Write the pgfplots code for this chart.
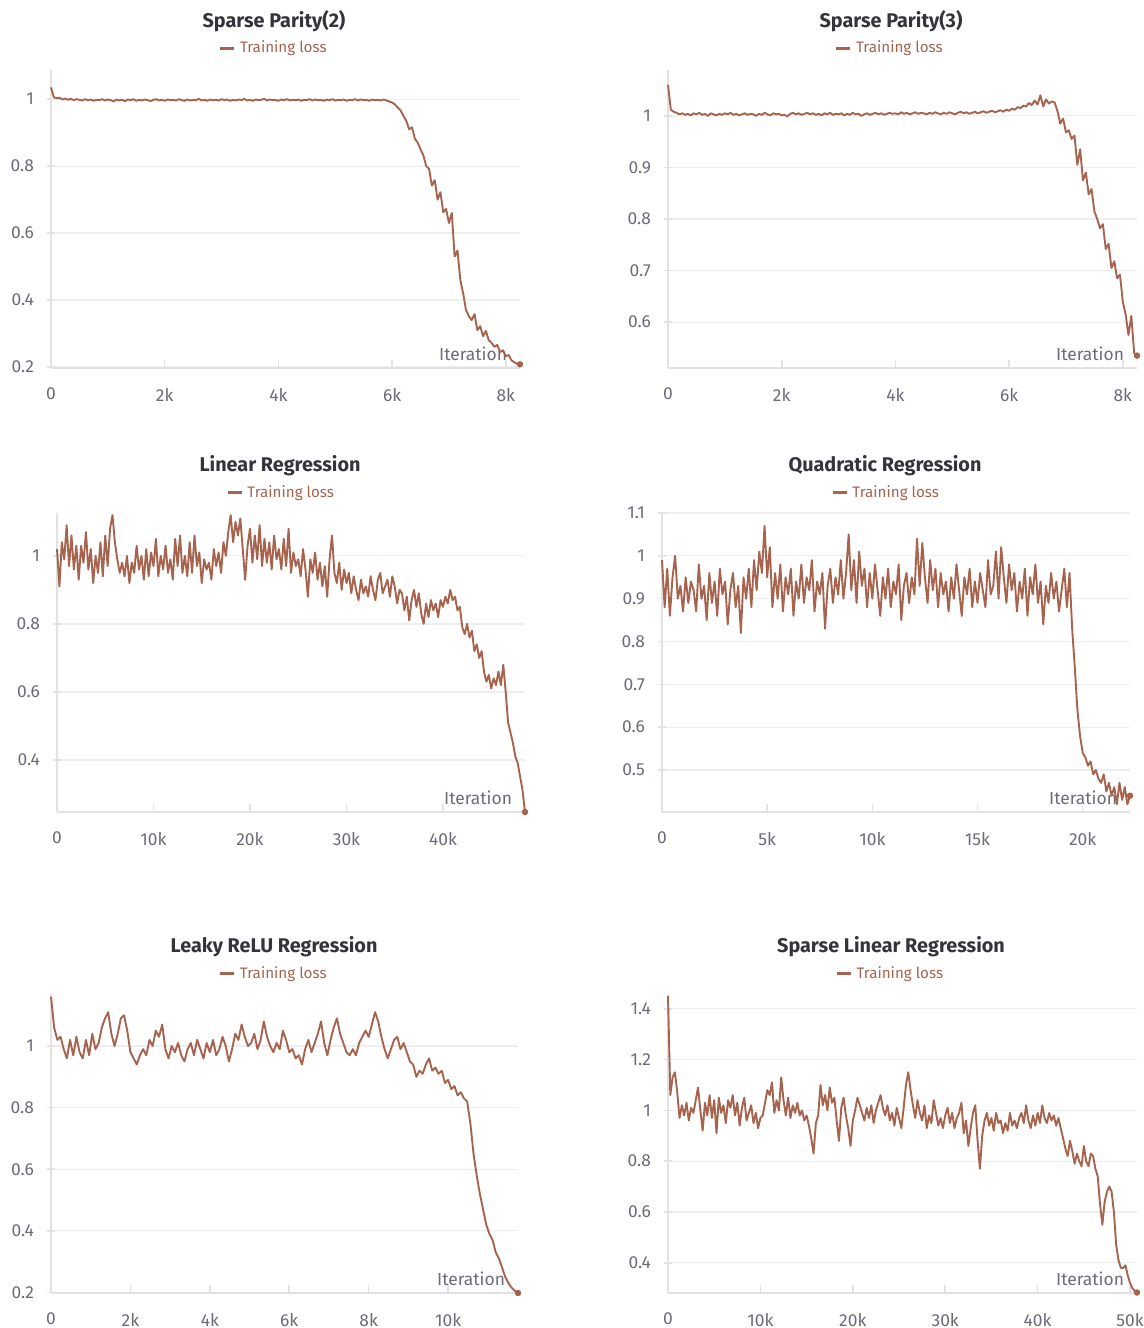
\documentclass[border=0pt]{standalone}
\usepackage{pgfplots}
\pgfplotsset{compat=1.18}
\usepackage{fontspec}
\setmainfont{Fira Sans}
\definecolor{lossc}{RGB}{166,100,78}
\definecolor{axgray}{RGB}{226,226,229}
\definecolor{gridc}{RGB}{238,238,241}
\definecolor{tickc}{RGB}{108,108,120}
\definecolor{titlec}{RGB}{52,52,58}
\pgfplotsset{
 panel/.style={
  scale only axis,
  anchor=south west,
  axis x line*=bottom, axis y line*=left,
  axis line style={draw=axgray, line width=1.3pt},
  ymajorgrids, grid style={draw=gridc, line width=0.6pt},
  major tick style={draw=axgray, line width=0.8pt},
  major tick length=4pt,
  xtick align=inside, ytick align=center,
  tick label style={font=\fontsize{8.7}{10}\selectfont, text=tickc},
  yticklabel style={xshift=-3pt},
  xticklabel style={yshift=-6.5pt},
  /pgf/number format/assume math mode=true,
  scaled ticks=false,
  clip=false,
  legend style={draw=none, fill=none, font=\fontsize{7.6}{9}\selectfont, text=lossc, anchor=center, inner sep=0pt},
  legend image code/.code={\draw[line width=1.6pt, lossc] (0pt,0pt) -- (7pt,0pt);},
 },
 lossline/.style={draw=lossc, line width=0.95pt, line join=round, no markers},
 endmark/.style={only marks, mark=*, mark size=1.4pt, color=lossc, forget plot},
}
\tikzset{
 ttl/.style={font=\bfseries\fontsize{9.9}{11}\selectfont, text=titlec},
 iter/.style={anchor=south east, font=\fontsize{8.7}{10}\selectfont, text=tickc, xshift=-3pt, yshift=0pt},
}
\begin{document}
\begin{tikzpicture}
\useasboundingbox (0,0) rectangle (572pt,-664pt);
\node[ttl] at (137pt,-10.5pt) {Sparse Parity(2)};
\node[ttl] at (445.5pt,-10.5pt) {Sparse Parity(3)};
\node[ttl] at (140pt,-233pt) {Linear Regression};
\node[ttl] at (442.5pt,-233pt) {Quadratic Regression};
\node[ttl] at (137pt,-473.5pt) {Leaky ReLU Regression};
\node[ttl] at (445.5pt,-473.5pt) {Sparse Linear Regression};

% ---------------- Sparse Parity(2)
\begin{axis}[panel, at={(25.5pt,-184pt)}, width=234.5pt, height=149pt,
 xmin=0, xmax=8250, ymin=0.197, ymax=1.087,
 xtick={0,2000,4000,6000,8000}, xticklabels={0,2k,4k,6k,8k},
 ytick={0.2,0.4,0.6,0.8,1},
 legend style={at={(axis description cs:0.477,1.072)}}]
\node[iter] at (rel axis cs:1,0) {Iteration};
\addplot[lossline] table[row sep=\\, header=false, x expr=\coordindex*50, y index=0] {
1.035\\1.006\\1.003\\1.004\\0.999\\1.002\\0.998\\1.001\\0.997\\1.000\\
0.998\\0.996\\1.000\\0.997\\0.999\\0.995\\0.998\\0.997\\1.000\\0.996\\
0.999\\0.997\\0.993\\0.999\\0.996\\0.998\\0.994\\0.999\\0.997\\1.000\\
0.995\\0.998\\0.996\\0.999\\0.997\\0.994\\0.998\\1.000\\0.996\\0.998\\
0.995\\0.999\\0.997\\0.998\\0.996\\1.000\\0.997\\0.995\\0.999\\0.996\\
0.998\\0.997\\1.001\\0.996\\0.998\\0.995\\0.999\\0.997\\0.998\\0.996\\
1.000\\0.997\\0.999\\0.995\\0.998\\0.996\\0.999\\0.997\\1.001\\0.996\\
0.998\\0.995\\0.999\\0.997\\0.998\\1.001\\0.996\\0.999\\0.997\\0.998\\
0.995\\0.999\\0.997\\1.000\\0.996\\0.998\\0.997\\0.999\\0.995\\0.998\\
0.997\\1.000\\0.996\\0.999\\0.997\\0.998\\0.995\\0.999\\0.997\\1.000\\
0.996\\0.998\\0.997\\0.999\\0.995\\0.998\\0.997\\1.000\\0.996\\0.999\\
0.997\\0.998\\0.995\\0.999\\0.997\\0.998\\0.996\\0.999\\
0.996\\0.993\\0.990\\0.984\\0.975\\0.966\\0.950\\0.935\\0.910\\0.916\\
0.882\\0.870\\0.850\\0.832\\0.800\\0.792\\0.742\\0.758\\0.700\\0.722\\
0.662\\0.672\\0.630\\0.660\\0.530\\0.548\\0.460\\0.420\\0.370\\0.352\\
0.340\\0.358\\0.310\\0.322\\0.292\\0.308\\0.280\\0.272\\0.260\\0.266\\
0.245\\0.250\\0.232\\0.236\\0.220\\0.214\\0.210\\0.208\\
};
\addlegendentry{Training loss}
\addplot[endmark] coordinates {(8250,0.208)};
\end{axis}

% ---------------- Sparse Parity(3)
\begin{axis}[panel, at={(334pt,-184pt)}, width=234.5pt, height=149pt,
 xmin=0, xmax=8250, ymin=0.511, ymax=1.089,
 xtick={0,2000,4000,6000,8000}, xticklabels={0,2k,4k,6k,8k},
 ytick={0.6,0.7,0.8,0.9,1},
 legend style={at={(axis description cs:0.475,1.072)}}]
\node[iter] at (rel axis cs:1,0) {Iteration};
\addplot[lossline] table[row sep=\\, header=false, x expr=\coordindex*50, y index=0] {
1.060\\1.012\\1.008\\1.006\\1.003\\1.005\\1.002\\1.004\\1.001\\1.005\\
1.003\\1.006\\1.002\\1.004\\1.000\\1.005\\1.003\\1.001\\1.004\\1.002\\
1.005\\1.003\\1.006\\1.002\\1.004\\1.001\\1.003\\1.005\\1.002\\1.004\\
1.003\\1.000\\1.004\\1.002\\1.006\\1.003\\1.001\\1.005\\1.003\\1.004\\
1.001\\1.002\\0.999\\1.004\\1.006\\1.003\\1.005\\1.002\\1.004\\1.006\\
1.003\\1.005\\1.002\\1.004\\1.001\\1.005\\1.003\\1.006\\1.002\\1.004\\
1.003\\1.005\\1.001\\1.004\\1.002\\1.006\\1.003\\1.004\\1.000\\1.003\\
1.005\\1.002\\1.004\\1.006\\1.003\\1.005\\1.002\\1.004\\1.006\\1.004\\
1.005\\1.003\\1.007\\1.004\\1.006\\1.003\\1.005\\1.007\\1.004\\1.006\\
1.005\\1.003\\1.006\\1.004\\1.007\\1.005\\1.003\\1.006\\1.004\\1.007\\
1.005\\1.003\\1.006\\1.008\\1.005\\1.007\\1.004\\1.006\\1.008\\1.005\\
1.007\\1.009\\1.006\\1.008\\1.010\\1.007\\1.009\\1.011\\
1.008\\1.012\\1.010\\1.014\\1.012\\1.017\\1.015\\1.020\\1.018\\1.025\\
1.021\\1.030\\1.022\\1.040\\1.018\\1.032\\1.024\\1.028\\1.026\\1.010\\
0.985\\0.995\\0.968\\0.972\\0.955\\0.962\\0.905\\0.935\\0.875\\0.890\\
0.848\\0.858\\0.815\\0.800\\0.782\\0.790\\0.742\\0.752\\0.705\\0.718\\
0.685\\0.692\\0.640\\0.615\\0.575\\0.612\\0.540\\0.535\\
};
\addlegendentry{Training loss}
\addplot[endmark] coordinates {(8250,0.535)};
\end{axis}

% ---------------- Linear Regression
\begin{axis}[panel, at={(28.5pt,-406pt)}, width=234pt, height=149.5pt,
 xmin=0, xmax=48500, ymin=0.247, ymax=1.126,
 xtick={0,10000,20000,30000,40000}, xticklabels={0,10k,20k,30k,40k},
 ytick={0.4,0.6,0.8,1},
 legend style={at={(axis description cs:0.481,1.068)}}]
\node[iter] at (rel axis cs:1,0) {Iteration};
\addplot[lossline] table[row sep=\\, header=false, x expr=\coordindex*250, y index=0] {
1.02\\0.91\\1.04\\0.99\\1.09\\0.97\\1.06\\0.96\\1.03\\0.93\\
1.03\\0.98\\1.07\\0.96\\1.02\\0.92\\1.00\\0.95\\1.04\\0.94\\
1.06\\0.97\\1.08\\1.12\\1.04\\0.99\\0.95\\0.98\\0.94\\1.00\\
0.92\\0.98\\0.95\\1.03\\0.96\\1.00\\0.93\\1.02\\0.94\\1.01\\
0.97\\1.05\\0.94\\1.00\\0.96\\1.03\\0.95\\0.99\\0.93\\1.05\\
0.97\\1.06\\0.95\\1.00\\0.94\\1.04\\0.95\\1.06\\0.97\\1.01\\
0.92\\0.99\\0.96\\0.98\\0.93\\1.02\\0.97\\1.01\\0.95\\1.04\\
1.00\\1.07\\1.12\\1.04\\1.10\\1.06\\1.11\\1.02\\0.93\\1.03\\
1.08\\0.98\\1.06\\0.99\\1.09\\0.97\\1.05\\0.98\\1.04\\0.96\\
1.06\\0.99\\1.02\\0.96\\1.05\\0.97\\1.08\\0.95\\1.01\\0.97\\
0.99\\0.94\\1.02\\0.96\\0.88\\0.99\\0.95\\1.01\\0.93\\0.98\\
0.91\\0.97\\0.88\\0.99\\1.06\\0.95\\0.92\\0.98\\0.90\\0.96\\
0.92\\0.95\\0.89\\0.94\\0.90\\0.87\\0.93\\0.89\\0.91\\0.88\\
0.94\\0.90\\0.87\\0.93\\0.95\\0.89\\0.91\\0.93\\0.88\\0.94\\
0.91\\0.86\\0.90\\0.89\\0.84\\0.88\\0.81\\0.87\\0.90\\0.85\\
0.89\\0.83\\0.80\\0.86\\0.82\\0.87\\0.84\\0.86\\0.82\\0.87\\
0.85\\0.88\\0.86\\0.90\\0.87\\0.88\\0.84\\0.85\\0.79\\0.77\\
0.80\\0.76\\0.78\\0.72\\0.74\\0.70\\0.72\\0.66\\0.63\\0.65\\
0.61\\0.64\\0.62\\0.66\\0.62\\0.68\\0.60\\0.51\\0.48\\0.45\\
0.41\\0.39\\0.35\\0.31\\0.247\\
};
\addlegendentry{Training loss}
\addplot[endmark] coordinates {(48500,0.247)};
\end{axis}

% ---------------- Quadratic Regression
\begin{axis}[panel, at={(331pt,-406pt)}, width=234pt, height=149.5pt,
 xmin=0, xmax=22250, ymin=0.402, ymax=1.100,
 xtick={0,5000,10000,15000,20000}, xticklabels={0,5k,10k,15k,20k},
 ytick={0.5,0.6,0.7,0.8,0.9,1,1.1},
 legend style={at={(axis description cs:0.481,1.068)}}]
\node[iter] at (rel axis cs:1,0) {Iteration};
\addplot[lossline] table[row sep=\\, header=false, x expr=\coordindex*125, y index=0] {
0.99\\0.88\\0.97\\0.86\\0.95\\1.00\\0.90\\0.93\\0.87\\0.95\\
0.89\\0.94\\0.92\\0.87\\0.98\\0.90\\0.93\\0.85\\0.96\\0.89\\
0.94\\0.86\\0.97\\0.91\\0.94\\0.84\\0.92\\0.96\\0.88\\0.93\\
0.82\\0.95\\0.90\\0.97\\0.88\\0.99\\0.92\\1.01\\0.96\\1.07\\
0.95\\1.02\\0.88\\0.96\\0.90\\0.98\\0.87\\0.95\\0.91\\0.97\\
0.86\\0.94\\0.90\\0.98\\0.89\\0.95\\0.92\\0.99\\0.87\\0.94\\
0.91\\0.96\\0.83\\0.93\\0.97\\0.89\\0.95\\0.91\\0.99\\0.90\\
0.96\\1.05\\0.92\\0.99\\0.89\\1.01\\0.93\\0.97\\0.88\\0.96\\
0.90\\0.98\\0.92\\0.86\\0.95\\0.90\\0.97\\0.88\\0.94\\0.91\\
0.98\\0.85\\0.93\\0.96\\0.89\\0.95\\0.91\\1.04\\0.93\\1.03\\
0.95\\0.89\\0.99\\0.92\\0.97\\0.88\\0.96\\0.91\\0.94\\0.87\\
0.95\\0.90\\0.98\\0.92\\0.86\\0.95\\0.91\\0.97\\0.88\\0.94\\
0.89\\0.96\\0.92\\0.88\\0.99\\0.91\\0.93\\1.01\\0.90\\1.02\\
0.95\\0.89\\0.98\\0.92\\0.96\\0.87\\0.94\\0.90\\0.97\\0.86\\
0.95\\0.91\\0.98\\0.89\\0.94\\0.84\\0.93\\0.89\\0.96\\0.90\\
0.94\\0.87\\0.92\\0.97\\0.88\\0.96\\0.83\\0.74\\0.64\\0.58\\
0.54\\0.53\\0.51\\0.52\\0.49\\0.50\\0.48\\0.47\\0.49\\0.45\\
0.47\\0.44\\0.46\\0.42\\0.47\\0.43\\0.46\\0.42\\0.44\\
};
\addlegendentry{Training loss}
\addplot[endmark] coordinates {(22250,0.44)};
\end{axis}

% ---------------- Leaky ReLU Regression
\begin{axis}[panel, at={(25.5pt,-646.5pt)}, width=233.5pt, height=149.5pt,
 xmin=0, xmax=11760, ymin=0.198, ymax=1.169,
 xtick={0,2000,4000,6000,8000,10000}, xticklabels={0,2k,4k,6k,8k,10k},
 ytick={0.2,0.4,0.6,0.8,1},
 legend style={at={(axis description cs:0.479,1.068)}}]
\node[iter] at (rel axis cs:1,0) {Iteration};
\addplot[lossline] table[row sep=\\, header=false, x expr=\coordindex*80, y index=0] {
1.16\\1.06\\1.02\\1.03\\0.99\\0.96\\1.02\\0.97\\1.03\\0.98\\
0.96\\1.02\\0.97\\1.04\\0.99\\1.01\\1.06\\1.09\\1.11\\1.04\\
1.00\\1.04\\1.09\\1.10\\1.05\\0.98\\0.96\\0.94\\0.97\\0.99\\
0.97\\1.02\\1.00\\1.05\\1.03\\1.07\\0.99\\0.96\\1.00\\0.98\\
1.01\\0.97\\0.95\\0.99\\1.01\\0.97\\1.02\\0.99\\0.96\\1.01\\
0.98\\1.02\\0.97\\0.99\\1.03\\1.00\\0.95\\0.99\\1.04\\1.02\\
1.07\\1.03\\1.00\\1.01\\1.04\\0.99\\1.02\\1.08\\1.03\\1.00\\
0.98\\1.01\\0.99\\1.05\\1.02\\0.98\\0.99\\0.96\\0.97\\0.94\\
0.99\\1.02\\0.98\\1.01\\1.04\\1.08\\1.01\\0.97\\1.02\\1.06\\
1.09\\1.04\\1.01\\0.98\\0.97\\0.99\\0.97\\1.01\\1.03\\1.05\\
1.03\\1.07\\1.11\\1.08\\1.03\\0.99\\0.96\\0.99\\1.02\\1.03\\
0.99\\1.01\\0.98\\0.95\\0.94\\0.90\\0.92\\0.91\\0.94\\0.96\\
0.92\\0.93\\0.91\\0.92\\0.88\\0.89\\0.86\\0.87\\0.84\\0.85\\
0.83\\0.82\\0.75\\0.65\\0.58\\0.52\\0.47\\0.42\\0.39\\0.37\\
0.33\\0.31\\0.28\\0.25\\0.23\\0.215\\0.205\\0.198\\
};
\addlegendentry{Training loss}
\addplot[endmark] coordinates {(11760,0.198)};
\end{axis}

% ---------------- Sparse Linear Regression
\begin{axis}[panel, at={(334pt,-646.5pt)}, width=234.5pt, height=149.5pt,
 xmin=0, xmax=50750, ymin=0.281, ymax=1.458,
 xtick={0,10000,20000,30000,40000,50000}, xticklabels={0,10k,20k,30k,40k,50k},
 ytick={0.4,0.6,0.8,1,1.2,1.4},
 legend style={at={(axis description cs:0.476,1.068)}}]
\node[iter] at (rel axis cs:1,0) {Iteration};
\addplot[lossline] table[row sep=\\, header=false, x expr=\coordindex*250, y index=0] {
1.45\\1.06\\1.13\\1.15\\1.07\\0.97\\1.02\\0.98\\1.03\\0.96\\
1.01\\0.99\\1.04\\1.09\\1.00\\0.92\\1.03\\0.98\\1.06\\0.97\\
1.04\\0.91\\1.05\\0.99\\1.02\\0.95\\1.04\\1.01\\1.06\\0.98\\
1.03\\0.94\\1.01\\1.05\\0.96\\0.99\\1.02\\0.95\\0.99\\0.93\\
0.97\\0.98\\1.03\\1.08\\1.06\\1.11\\0.99\\1.04\\1.00\\1.13\\
1.04\\0.98\\1.05\\0.97\\1.02\\0.99\\1.03\\0.98\\1.00\\0.96\\
0.98\\0.94\\0.89\\0.83\\0.95\\0.98\\1.10\\1.02\\1.06\\1.00\\
1.09\\1.03\\1.05\\0.96\\0.88\\1.01\\1.05\\0.98\\0.93\\0.86\\
0.96\\1.00\\1.05\\1.02\\0.99\\0.96\\1.01\\0.97\\1.02\\0.95\\
1.00\\1.03\\1.06\\1.01\\0.98\\1.02\\0.96\\0.99\\0.94\\1.01\\
0.97\\0.93\\1.01\\1.10\\1.15\\1.08\\1.02\\0.97\\1.04\\0.99\\
0.96\\1.02\\0.93\\0.98\\0.95\\1.04\\0.99\\0.94\\0.97\\0.93\\
0.98\\1.01\\0.95\\0.99\\0.93\\0.97\\0.99\\1.03\\0.91\\0.96\\
0.86\\0.93\\0.99\\1.02\\0.88\\0.77\\0.90\\0.96\\0.99\\0.94\\
0.97\\0.92\\0.99\\0.95\\0.96\\0.91\\0.95\\0.92\\0.99\\0.94\\
0.96\\0.93\\0.97\\0.99\\0.95\\1.02\\0.96\\0.93\\0.98\\0.94\\
0.99\\0.95\\1.02\\0.97\\0.95\\0.99\\0.96\\0.98\\0.94\\0.97\\
0.93\\0.89\\0.85\\0.82\\0.88\\0.84\\0.79\\0.83\\0.80\\0.78\\
0.86\\0.80\\0.78\\0.83\\0.82\\0.77\\0.74\\0.63\\0.55\\0.64\\
0.68\\0.70\\0.68\\0.60\\0.47\\0.41\\0.38\\0.38\\0.39\\0.35\\
0.32\\0.30\\0.29\\0.283\\
};
\addlegendentry{Training loss}
\addplot[endmark] coordinates {(50750,0.283)};
\end{axis}
\end{tikzpicture}
\end{document}
